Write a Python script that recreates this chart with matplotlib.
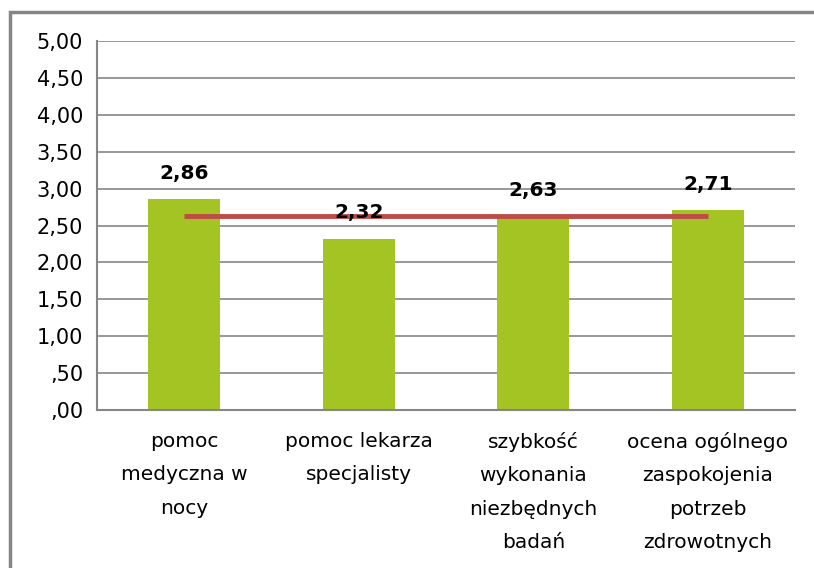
import matplotlib
matplotlib.use("Agg")
import matplotlib.pyplot as plt
from matplotlib.patches import Rectangle

categories = ["pomoc\nmedyczna w\nnocy", "pomoc lekarza\nspecjalisty",
              "szybkość\nwykonania\nniezbędnych\nbadań",
              "ocena ogólnego\nzaspokojenia\npotrzeb\nzdrowotnych"]
values = [2.86, 2.32, 2.63, 2.71]
mean_values = [2.63, 2.63, 2.63, 2.63]
value_labels = ["2,86", "2,32", "2,63", "2,71"]
yticks = [0, 0.5, 1.0, 1.5, 2.0, 2.5, 3.0, 3.5, 4.0, 4.5, 5.0]
ytick_labels = [",00", ",50", "1,00", "1,50", "2,00", "2,50", "3,00", "3,50", "4,00", "4,50", "5,00"]

fig = plt.figure(figsize=(8.14, 5.68), dpi=100)
ax = fig.add_axes([97/814, 1-410/568, (795-97)/814, (410-41)/568])

x = list(range(len(values)))
ax.bar(x, values, width=0.41, color="#A4C424", zorder=2)
ax.plot(x, mean_values, color="#BE4B48", lw=3.5, zorder=3, solid_capstyle="butt")
for xi, v, lab in zip(x, values, value_labels):
    ax.text(xi, v + 0.35, lab, ha="center", va="center", fontsize=14.5,
            fontweight="bold", zorder=4)

ax.set_xlim(-0.5, 3.5)
ax.set_ylim(0, 5)
ax.set_yticks(yticks)
ax.set_yticklabels(ytick_labels, fontsize=15)
ax.set_xticks(x)
ax.set_xticklabels(categories, fontsize=14.5, linespacing=1.95, va="top")
ax.tick_params(axis="x", length=0, pad=16)
ax.tick_params(axis="y", length=0, pad=10)
ax.grid(axis="y", color="#868686", lw=1.2, zorder=1)
for s in ["top", "right"]:
    ax.spines[s].set_visible(False)
for s in ["left", "bottom"]:
    ax.spines[s].set_color("#868686")
    ax.spines[s].set_linewidth(1.5)

fig.patches.append(Rectangle((10/814, -0.1), 1.2, 1 - 12/568 + 0.1, transform=fig.transFigure,
                             fill=False, edgecolor="#868686", lw=2.5))
fig.savefig("out.png", dpi=100)
